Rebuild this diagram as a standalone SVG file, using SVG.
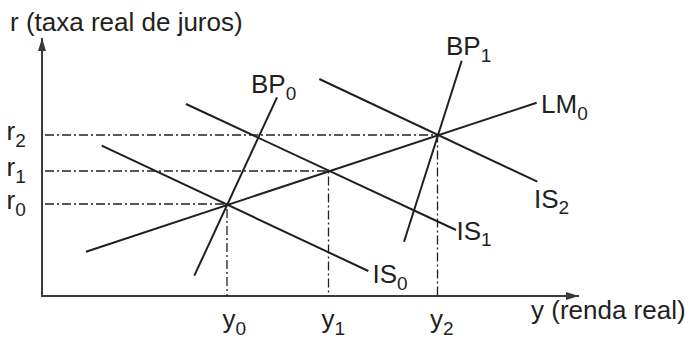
<svg xmlns="http://www.w3.org/2000/svg" width="692" height="338" viewBox="0 0 692 338">
<style>
text{font-family:"Liberation Sans",Arial,sans-serif;font-size:26px;fill:#231f20}
.sub{font-size:19px}
.curve{stroke:#231f20;stroke-width:2;fill:none}
.axis{stroke:#3a3a3a;stroke-width:2;fill:none}
.guide{stroke:#231f20;stroke-width:1.3;fill:none;stroke-dasharray:9 3 2 3}
</style>
<defs>
<marker id="arr" markerWidth="14" markerHeight="10" refX="13" refY="5" orient="auto" markerUnits="userSpaceOnUse">
<path d="M0,1 L13,5 L0,9 Z" fill="#3a3a3a"/>
</marker>
</defs>
<rect width="692" height="338" fill="#fff"/>
<g id="axes">
<line class="axis" x1="42" y1="296" x2="42" y2="38" marker-end="url(#arr)"/>
<line class="axis" x1="41" y1="296" x2="579" y2="296" marker-end="url(#arr)"/>
<text x="10" y="31">r (taxa real de juros)</text>
<text x="531" y="319">y (renda real)</text>
</g>
<g id="guides">
<polyline class="guide" points="45,204 227,204 227,296"/>
<polyline class="guide" points="45,171 328.5,171 328.5,296"/>
<polyline class="guide" points="45,135 437.5,135 437.5,296"/>
</g>
<g id="connectors">
<line id="LM0-line" class="curve" x1="86" y1="251.7" x2="536.7" y2="102.7"/>
<line id="IS0-line" class="curve" x1="101.7" y1="145.7" x2="368.3" y2="271"/>
<line id="IS1-line" class="curve" x1="186" y1="104" x2="456" y2="230"/>
<line id="IS2-line" class="curve" x1="319.3" y1="79" x2="537.3" y2="181.7"/>
<line id="BP0-line" class="curve" x1="194.3" y1="275.7" x2="277" y2="97.3"/>
<line id="BP1-line" class="curve" x1="404" y1="241.7" x2="461.7" y2="60.7"/>
</g>
<g id="labels-r">
<text x="6.5" y="140">r<tspan class="sub" dy="7">2</tspan></text>
<text x="6.5" y="176">r<tspan class="sub" dy="7">1</tspan></text>
<text x="6.5" y="209">r<tspan class="sub" dy="7">0</tspan></text>
</g>
<g id="labels-y">
<text x="222.5" y="328">y<tspan class="sub" dy="7">0</tspan></text>
<text x="321.5" y="328">y<tspan class="sub" dy="7">1</tspan></text>
<text x="430" y="328">y<tspan class="sub" dy="7">2</tspan></text>
</g>
<g id="BP0"><text x="251" y="93">BP<tspan class="sub" dy="7">0</tspan></text></g>
<g id="BP1"><text x="446" y="55">BP<tspan class="sub" dy="7">1</tspan></text></g>
<g id="LM0"><text x="541" y="113">LM<tspan class="sub" dy="7">0</tspan></text></g>
<g id="IS2"><text x="534" y="208">IS<tspan class="sub" dy="6">2</tspan></text></g>
<g id="IS1"><text x="456.5" y="240">IS<tspan class="sub" dy="6">1</tspan></text></g>
<g id="IS0"><text x="372.5" y="283">IS<tspan class="sub" dy="7">0</tspan></text></g>
</svg>
